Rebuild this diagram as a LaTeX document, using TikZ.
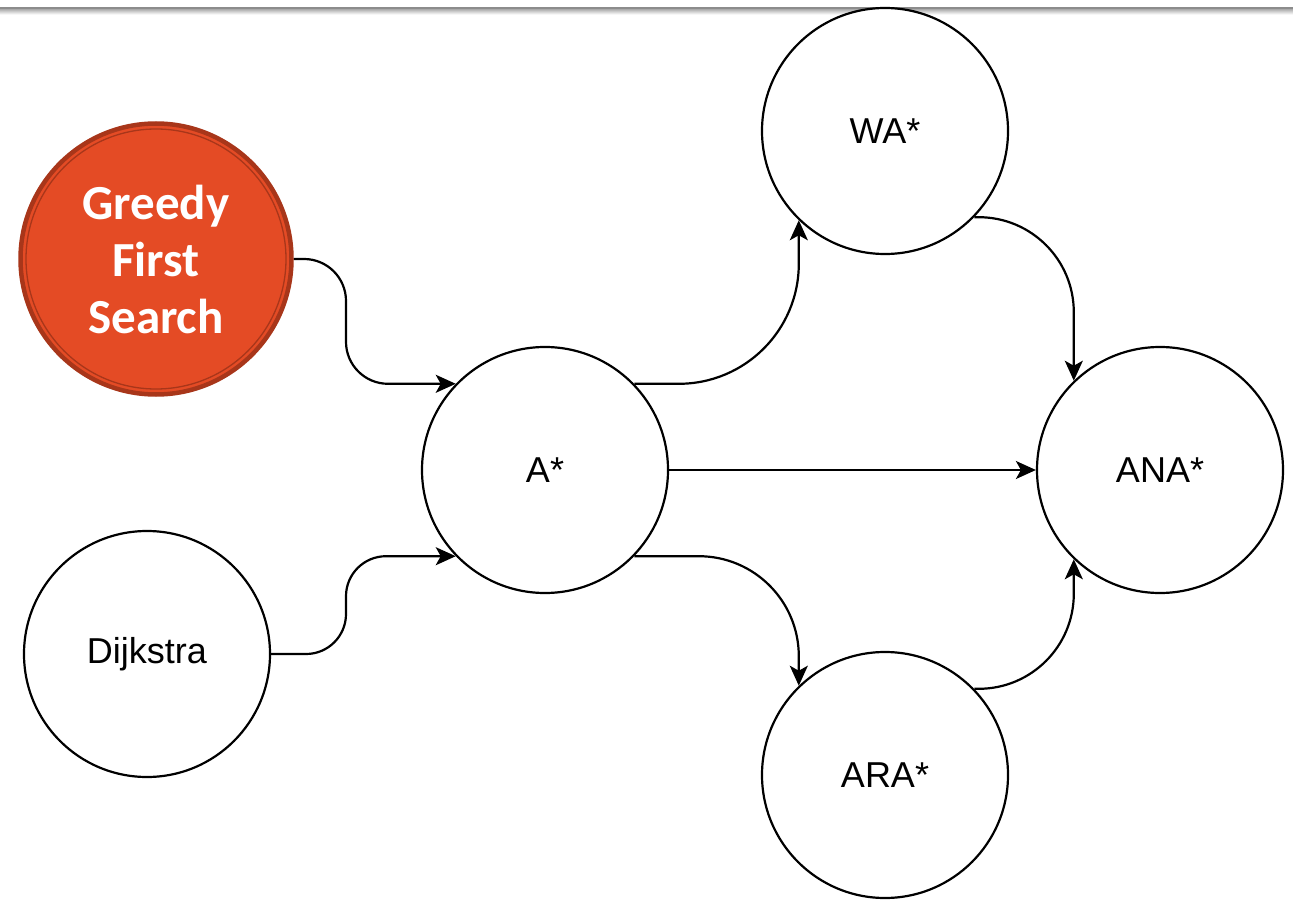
\documentclass[tikz,border=0pt]{standalone}
\usepackage{fontspec}
\newfontfamily\labelfont{Liberation Sans}
\newfontfamily\greedyfont{Carlito}
\usetikzlibrary{arrows.meta}
\definecolor{gfill}{RGB}{228,75,37}
\definecolor{gdark}{RGB}{168,54,26}
\tikzset{
  algo/.style={circle, draw=black, fill=white, line width=2.2pt, minimum size=246pt,
    inner sep=0pt, font=\labelfont\fontsize{36}{40}\selectfont},
  greedy/.style={circle, draw=gdark, fill=gfill, line width=4.5pt, minimum size=271pt,
    inner sep=0pt, text=white, align=center,
    font=\greedyfont\bfseries\fontsize{49}{57}\selectfont},
  conn/.style={draw=black, line width=2.2pt,
    -{Stealth[length=20pt,width=18pt,inset=5pt]}}
}
\begin{document}
\begin{tikzpicture}[x=1pt, y=-1pt]
\useasboundingbox (0,0) rectangle (1293,901);
% header rule with soft shadow
\fill[black!45] (0,7) rectangle (1293,9.5);
\shade[top color=black!30, bottom color=white] (0,9.5) rectangle (1293,14.5);

% nodes
\node[greedy] (G) at (156,259) {Greedy\\First\\Search};
\draw[gdark, line width=1.3pt] (G.center) circle (130pt);
\node[algo] (D) at (147,654) {Dijkstra};
\node[algo] (A) at (545,470) {A*};
\node[algo] (WA) at (885,131) {WA*};
\node[algo] (ARA) at (885,775) {ARA*};
\node[algo] (ANA) at (1160,470) {ANA*};

% x position of the vertical runs feeding A*
\coordinate (feed) at (346,0);

% connectors
\draw[conn, rounded corners=42pt] (G.east) -| (feed |- A.136) -- (A.136);
\draw[conn, rounded corners=40pt] (D.east) -| (feed |- A.224) -- (A.224);
\draw[conn, rounded corners=120pt] (A.44) -| (WA.226);
\draw[conn, rounded corners=100pt] (A.316) -| (ARA.134);
\draw[conn, rounded corners=95pt] (WA.316) -| (ANA.134);
\draw[conn, rounded corners=95pt] (ARA.44) -| (ANA.226);
\draw[conn] (A.east) -- (ANA.west);
\end{tikzpicture}
\end{document}
